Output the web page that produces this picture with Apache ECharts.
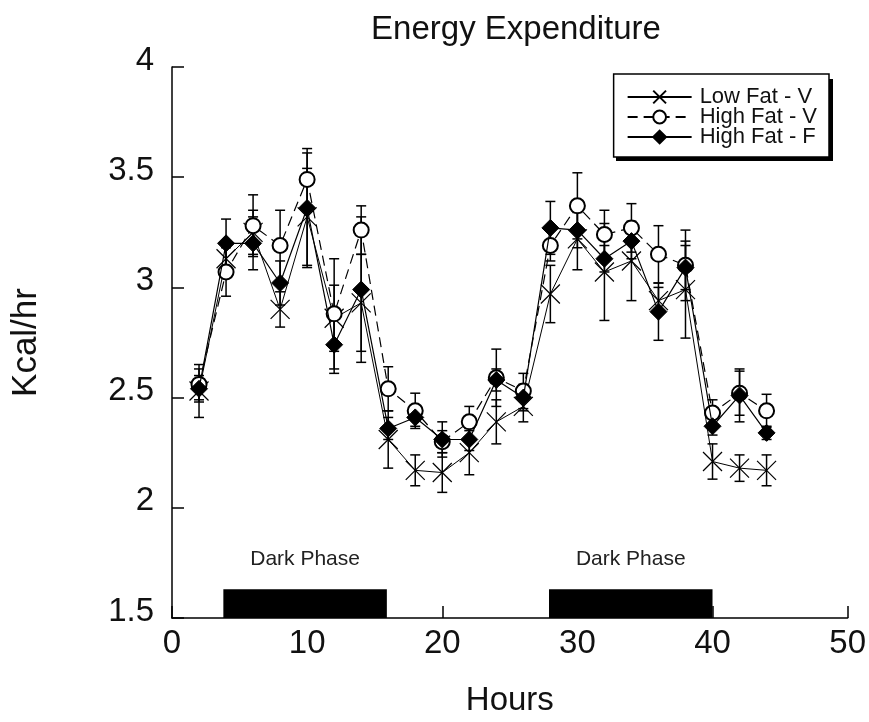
<!DOCTYPE html>
<html>
<head>
<meta charset="utf-8">
<script src="https://cdn.jsdelivr.net/npm/echarts@6/dist/echarts.min.js"></script>
<style>
  html, body { margin: 0; padding: 0; background: #fff; }
  #chart { width: 869px; height: 722px; }
</style>
</head>
<body>
<div id="chart"></div>
<script>
// hours
const hours = [2, 4, 6, 8, 10, 12, 14, 16, 18, 20, 22, 24, 26, 28, 30, 32, 34, 36, 38, 40, 42, 44];

// means (kcal/hr)
const lowFatV = [2.53, 3.13, 3.25, 2.90, 3.32, 2.86, 2.93, 2.31, 2.17, 2.16, 2.25, 2.39, 2.46, 2.97, 3.22, 3.07, 3.12, 2.94, 2.99, 2.21, 2.18, 2.17];
const highFatV = [2.56, 3.07, 3.28, 3.19, 3.49, 2.88, 3.26, 2.54, 2.44, 2.30, 2.39, 2.59, 2.53, 3.19, 3.37, 3.24, 3.27, 3.15, 3.10, 2.43, 2.52, 2.44];
const highFatF = [2.54, 3.20, 3.20, 3.02, 3.36, 2.74, 2.99, 2.36, 2.41, 2.31, 2.31, 2.58, 2.50, 3.27, 3.26, 3.13, 3.21, 2.89, 3.09, 2.37, 2.51, 2.34];

// standard errors
const lowFatVErr = [0.12, 0.08, 0.10, 0.08, 0.22, 0.15, 0.22, 0.13, 0.07, 0.09, 0.10, 0.10, 0.07, 0.13, 0.14, 0.22, 0.18, 0.06, 0.22, 0.08, 0.06, 0.07];
const highFatVErr = [0.07, 0.11, 0.14, 0.16, 0.12, 0.25, 0.11, 0.10, 0.08, 0.05, 0.07, 0.13, 0.08, 0.07, 0.15, 0.11, 0.11, 0.13, 0.16, 0.06, 0.10, 0.075];
const highFatFErr = [0.06, 0.11, 0.12, 0.10, 0.27, 0.13, 0.33, 0.05, 0.04, 0.08, 0.05, 0.05, 0.06, 0.12, 0.08, 0.06, 0.08, 0.13, 0.10, 0.04, 0.12, 0.03];

// dark phases
const darkStart = [3.8, 27.9];
const darkEnd = [15.9, 40];
const darkTop = 1.63;
const darkLabel = 'Dark Phase';
const darkLabelY = 1.765;

const seriesNames = ['Low Fat - V', 'High Fat - V', 'High Fat - F'];

const chart = echarts.init(document.getElementById('chart'));
const FONT = 'Liberation Sans, Arial, Helvetica, sans-serif';

function pairs(ys) {
  return hours.map((h, i) => [h, ys[i]]);
}

function errData(ys, es) {
  return hours.map((h, i) => [h, ys[i] - es[i], ys[i] + es[i]]);
}

function errRender(params, api) {
  const lo = api.coord([api.value(0), api.value(1)]);
  const hi = api.coord([api.value(0), api.value(2)]);
  const w = 5;
  const st = { stroke: '#000', lineWidth: 1.5 };
  return {
    type: 'group',
    children: [
      { type: 'line', shape: { x1: lo[0], y1: lo[1], x2: hi[0], y2: hi[1] }, style: st },
      { type: 'line', shape: { x1: lo[0] - w, y1: lo[1], x2: lo[0] + w, y2: lo[1] }, style: st },
      { type: 'line', shape: { x1: hi[0] - w, y1: hi[1], x2: hi[0] + w, y2: hi[1] }, style: st }
    ]
  };
}

function errSeries(ys, es) {
  return {
    type: 'custom',
    data: errData(ys, es),
    renderItem: errRender,
    silent: true,
    z: 1
  };
}

const xMark = 'path://M0,0L10,10M10,0L0,10';

chart.setOption({
  backgroundColor: '#fff',
  animation: false,
  title: {
    text: 'Energy Expenditure',
    left: 511,
    textAlign: 'center',
    top: 8,
    textStyle: { fontFamily: FONT, fontSize: 33, fontWeight: 'normal', color: '#111' }
  },
  // hard drop shadow behind the legend box
  graphic: [{
    type: 'rect',
    right: 36,
    top: 79,
    z: 0,
    shape: { width: 217, height: 82 },
    style: { fill: '#000' }
  }],
  legend: {
    right: 40,
    top: 74,
    z: 10,
    orient: 'vertical',
    itemGap: -2,
    itemWidth: 64,
    itemHeight: 16,
    padding: [12, 12, 9, 13],
    backgroundColor: '#fff',
    borderColor: '#000',
    borderWidth: 1.5,
    borderRadius: 0,
    textStyle: { fontFamily: FONT, fontSize: 22, color: '#111', padding: [0, 0, 0, 3] },
    data: seriesNames
  },
  grid: { left: 172, right: 19, top: 67, bottom: 95 },
  xAxis: {
    type: 'value',
    min: 0,
    max: 50,
    interval: 10,
    name: 'Hours',
    nameLocation: 'middle',
    nameGap: 66,
    nameTextStyle: { fontFamily: FONT, fontSize: 33, color: '#111' },
    axisLine: { lineStyle: { color: '#000', width: 1.5 } },
    axisTick: { inside: true, length: 12, lineStyle: { color: '#000', width: 1.5 } },
    axisLabel: { fontFamily: FONT, fontSize: 33, color: '#111', margin: 9 },
    splitLine: { show: false }
  },
  yAxis: {
    type: 'value',
    min: 1.5,
    max: 4,
    interval: 0.5,
    name: 'Kcal/hr',
    nameLocation: 'middle',
    nameGap: 128,
    nameTextStyle: { fontFamily: FONT, fontSize: 35, color: '#111' },
    axisLine: { lineStyle: { color: '#000', width: 1.5 } },
    axisTick: { inside: true, length: 12, lineStyle: { color: '#000', width: 1.5 } },
    axisLabel: { fontFamily: FONT, fontSize: 33, color: '#111', margin: 18, verticalAlign: 'bottom', lineHeight: 13 },
    splitLine: { show: false }
  },
  series: [
    errSeries(lowFatV, lowFatVErr),
    errSeries(highFatV, highFatVErr),
    errSeries(highFatF, highFatFErr),
    {
      name: seriesNames[0],
      type: 'line',
      data: pairs(lowFatV),
      symbol: xMark,
      symbolSize: 19,
      showAllSymbol: true,
      lineStyle: { color: '#000', width: 1 },
      itemStyle: { color: '#000', borderColor: '#000', borderWidth: 1.2 },
      z: 3
    },
    {
      name: seriesNames[1],
      type: 'line',
      data: pairs(highFatV),
      symbol: 'emptyCircle',
      symbolSize: 15,
      showAllSymbol: true,
      lineStyle: { color: '#000', width: 1.2, type: [10, 6] },
      itemStyle: { color: '#000', borderColor: '#000', borderWidth: 1.6 },
      z: 4
    },
    {
      name: seriesNames[2],
      type: 'line',
      data: pairs(highFatF),
      symbol: 'diamond',
      symbolSize: 17,
      showAllSymbol: true,
      lineStyle: { color: '#000', width: 1.2 },
      itemStyle: { color: '#000', borderColor: '#000', borderWidth: 1 },
      z: 5
    },
    {
      type: 'custom',
      silent: true,
      data: darkStart.map((s, i) => [s, darkEnd[i]]),
      renderItem: function (params, api) {
        const a = api.coord([api.value(0), darkTop]);
        const b = api.coord([api.value(1), 1.5]);
        const t = api.coord([(api.value(0) + api.value(1)) / 2, darkLabelY]);
        return {
          type: 'group',
          children: [
            { type: 'rect', shape: { x: a[0], y: a[1], width: b[0] - a[0], height: b[1] - a[1] }, style: { fill: '#000' } },
            { type: 'text', x: t[0], y: t[1], style: { text: darkLabel, fontFamily: FONT, fontSize: 21, fill: '#222', align: 'center', verticalAlign: 'middle' } }
          ]
        };
      },
      z: 2
    }
  ]
});
</script>
</body>
</html>
